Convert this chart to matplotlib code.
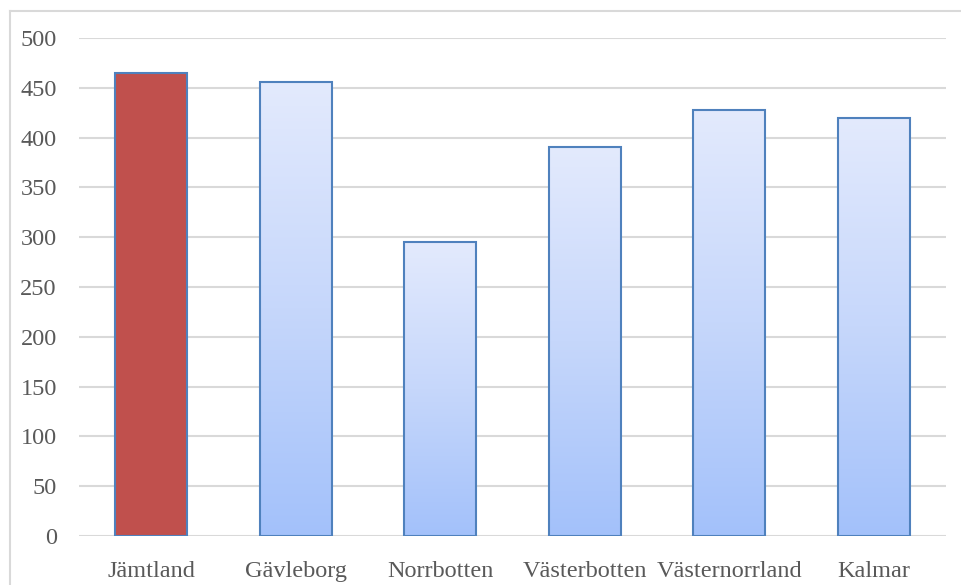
import numpy as np
import matplotlib.pyplot as plt
from matplotlib.colors import LinearSegmentedColormap
from matplotlib.patches import Rectangle

regions = ['Jämtland', 'Gävleborg', 'Norrbotten', 'Västerbotten', 'Västernorrland', 'Kalmar']
values = [465, 456, 295, 391, 428, 420]
highlight = 'Jämtland'
yticks = [0, 50, 100, 150, 200, 250, 300, 350, 400, 450, 500]

plt.rcParams['font.family'] = ['Liberation Serif', 'DejaVu Serif']

fig = plt.figure(figsize=(9.62, 5.85), dpi=100)
ax = fig.add_axes([79/962, 1-536/585, (946-79)/962, (536-38)/585])

# outer chart border (left and top visible)
fig.add_artist(plt.Line2D([10/962, 10/962], [0, 1-11/585], color='#d9d9d9', lw=1.5))
fig.add_artist(plt.Line2D([10/962, 1], [1-11/585, 1-11/585], color='#d9d9d9', lw=1.5))

grad = LinearSegmentedColormap.from_list('g', ['#a3c1fa', '#c6d7fb', '#e3eafd'])
x = np.arange(len(regions))
bars = ax.bar(x, values, width=0.5, edgecolor='#4f81bd', linewidth=1.5, zorder=3)
for b, name in zip(bars, regions):
    if name == highlight:
        b.set_facecolor('#c0504d')
    else:
        b.set_facecolor('none')
        x0, y0 = b.get_x(), b.get_y()
        w, h = b.get_width(), b.get_height()
        im = ax.imshow(np.linspace(0, 1, 256).reshape(-1, 1), cmap=grad, origin='lower',
                       extent=[x0, x0 + w, 0, h], aspect='auto', zorder=2)
        im.set_clip_path(Rectangle((x0, y0), w, h, transform=ax.transData))

ax.set_xlim(-0.5, len(regions) - 0.5)
ax.set_ylim(0, 500)
ax.set_yticks(yticks)
ax.set_xticks(x)
ax.set_xticklabels(regions)
ax.grid(axis='y', color='#d9d9d9', lw=1.5, zorder=0)
for s in ax.spines.values():
    s.set_visible(False)
ax.tick_params(length=0, labelsize=17.5, labelcolor='#595959')
ax.tick_params(axis='y', pad=16)
ax.tick_params(axis='x', pad=18)

fig.savefig('out.png', dpi=100)
